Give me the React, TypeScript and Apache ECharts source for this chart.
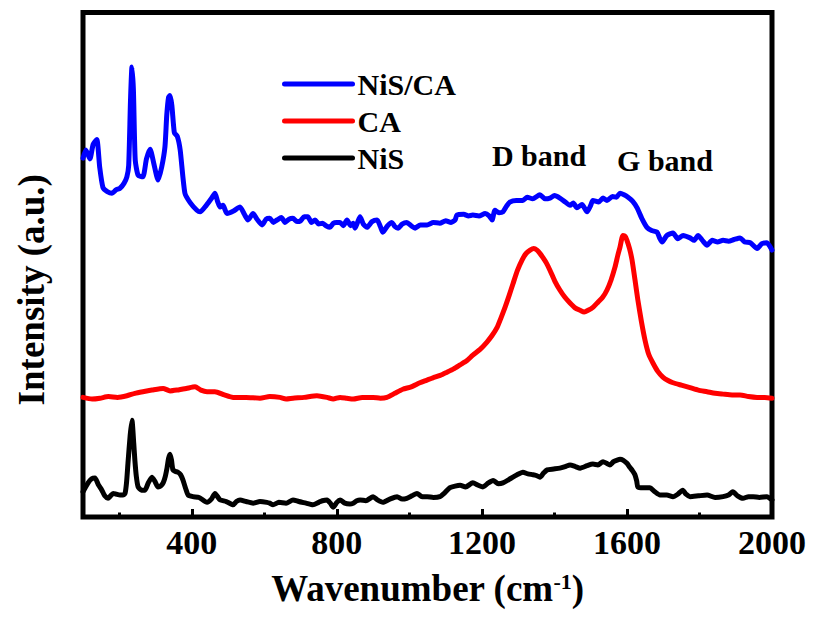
import React, { useEffect, useRef } from "react";
import * as echarts from "echarts";

const SERIF = '"Liberation Serif", "Times New Roman", serif';

const seriesNames = ["NiS/CA", "CA", "NiS"];
const seriesColors = ["#0000ff", "#ff0000", "#000000"];

// Wavenumber axis (cm-1)
const xMin = 100;
const xMax = 2000;
const xMajorTicks = [400, 800, 1200, 1600, 2000];
const xMinorTicks = [200, 600, 1000, 1400, 1800];
const xTopTicks = [200, 400, 600, 800, 1000, 1200, 1400, 1600, 1800];

// Intensity axis (a.u.), offset traces stacked vertically
const yMin = 0;
const yMax = 620;
const yTicks = [20, 120, 220, 320, 420, 520];

// [wavenumber, intensity]
const nisCaSpectrum = [
  [100, 441], [108, 451], [119, 440], [128, 458], [138, 464], [146, 430], [155, 405], [167, 400],
  [180, 398], [191, 402], [202, 404], [213, 410], [221, 418], [226, 432], [231, 512], [235, 553],
  [239, 525], [244, 439], [252, 420], [265, 418], [275, 440], [285, 452], [295, 435], [307, 414],
  [317, 430], [326, 455], [331, 494], [336, 516], [340, 518], [345, 506], [352, 472], [360, 468],
  [368, 451], [381, 398], [396, 386], [414, 377], [423, 375], [440, 383], [455, 392], [464, 398],
  [471, 388], [478, 381], [486, 383], [497, 373], [515, 376], [533, 381], [545, 372], [555, 365],
  [569, 373], [580, 366], [594, 359], [605, 366], [615, 367], [625, 362], [635, 365], [647, 368],
  [657, 362], [668, 366], [679, 367], [690, 363], [700, 364], [710, 369], [720, 369], [730, 362],
  [740, 365], [750, 360], [760, 361], [770, 358], [781, 356], [790, 361], [800, 362], [809, 362],
  [818, 358], [828, 365], [838, 358], [845, 361], [850, 355], [857, 362], [864, 369], [873, 360],
  [883, 356], [897, 363], [911, 365], [920, 357], [927, 350], [940, 358], [952, 362], [960, 357],
  [969, 355], [980, 360], [993, 362], [1005, 358], [1016, 355], [1030, 359], [1049, 359], [1066, 362],
  [1084, 361], [1100, 364], [1115, 362], [1126, 365], [1131, 371], [1150, 372], [1163, 370], [1175, 371],
  [1192, 370], [1209, 373], [1220, 370], [1228, 365], [1236, 377], [1247, 374], [1258, 375], [1268, 382],
  [1277, 387], [1295, 389], [1313, 389], [1325, 393], [1340, 391], [1360, 396], [1374, 391], [1388, 392],
  [1400, 395], [1415, 392], [1430, 387], [1443, 383], [1452, 386], [1462, 380], [1476, 384], [1490, 375],
  [1500, 383], [1506, 389], [1522, 387], [1534, 392], [1545, 389], [1560, 394], [1571, 393], [1581, 398],
  [1592, 396], [1603, 393], [1616, 388], [1628, 380], [1642, 366], [1655, 356], [1668, 352], [1683, 350],
  [1690, 343], [1697, 338], [1710, 346], [1727, 349], [1740, 342], [1755, 346], [1774, 343], [1785, 340],
  [1796, 346], [1808, 340], [1821, 334], [1835, 340], [1850, 338], [1865, 340], [1880, 339], [1895, 341],
  [1912, 343], [1925, 338], [1940, 337], [1959, 330], [1972, 336], [1986, 337], [2000, 328],
];

const caSpectrum = [
  [100, 147], [125, 145], [147, 146], [170, 148], [195, 147], [221, 149], [243, 152], [265, 154],
  [290, 156], [321, 158], [340, 155], [359, 156], [385, 158], [409, 160], [425, 156], [442, 154],
  [464, 154], [490, 150], [514, 147], [550, 147], [588, 146], [615, 148], [643, 147], [660, 145],
  [679, 146], [710, 147], [745, 149], [773, 147], [790, 145], [809, 147], [827, 146], [845, 145],
  [870, 147], [900, 147], [920, 146], [938, 147], [960, 152], [982, 157], [1005, 160], [1029, 165],
  [1047, 168], [1065, 171], [1085, 174], [1104, 178], [1122, 182], [1140, 187], [1158, 192], [1175, 199],
  [1195, 206], [1214, 215], [1228, 223], [1242, 233], [1253, 245], [1264, 258], [1275, 272], [1286, 287],
  [1298, 303], [1311, 316], [1322, 324], [1333, 328], [1343, 330], [1352, 328], [1360, 324], [1368, 319],
  [1378, 312], [1388, 303], [1401, 290], [1415, 279], [1429, 270], [1443, 263], [1457, 257], [1471, 254],
  [1482, 252], [1493, 254], [1507, 258], [1520, 264], [1533, 270], [1545, 279], [1556, 291], [1567, 307],
  [1575, 322], [1581, 332], [1589, 346], [1595, 345], [1600, 340], [1607, 330], [1614, 316], [1622, 292],
  [1630, 267], [1640, 240], [1650, 217], [1660, 200], [1672, 189], [1685, 179], [1699, 172], [1712, 168],
  [1727, 165], [1750, 162], [1774, 159], [1797, 156], [1821, 154], [1843, 152], [1865, 151], [1890, 150],
  [1912, 150], [1935, 148], [1959, 147], [1980, 147], [2000, 146],
];

const nisSpectrum = [
  [100, 31], [114, 42], [124, 47], [133, 48], [142, 40], [152, 33], [160, 26], [169, 23],
  [176, 26], [183, 29], [192, 28], [202, 27], [210, 27], [216, 29], [220, 42], [224, 66],
  [230, 100], [235, 119], [240, 90], [243, 70], [247, 50], [252, 37], [261, 33], [271, 33],
  [280, 42], [290, 49], [298, 44], [307, 37], [314, 38], [321, 42], [327, 50], [332, 61],
  [336, 72], [340, 77], [344, 70], [348, 58], [355, 56], [362, 55], [369, 52], [376, 45],
  [383, 35], [390, 27], [403, 25], [420, 24], [442, 18], [454, 22], [464, 29], [471, 25],
  [478, 21], [495, 19], [514, 15], [523, 19], [533, 21], [550, 19], [569, 17], [588, 19],
  [607, 18], [615, 17], [624, 15], [640, 18], [660, 17], [679, 21], [695, 19], [715, 17],
  [734, 15], [750, 18], [760, 20], [773, 21], [782, 17], [790, 12], [800, 18], [809, 21],
  [822, 17], [836, 16], [845, 17], [855, 20], [864, 21], [880, 20], [900, 25], [912, 21],
  [927, 18], [946, 22], [966, 25], [980, 22], [993, 23], [1007, 26], [1021, 29], [1035, 25],
  [1049, 25], [1066, 24], [1084, 25], [1098, 30], [1112, 36], [1126, 38], [1140, 39], [1155, 37],
  [1175, 42], [1190, 39], [1203, 37], [1218, 42], [1231, 45], [1245, 41], [1258, 42], [1278, 47],
  [1297, 52], [1313, 55], [1327, 53], [1341, 52], [1350, 51], [1360, 49], [1370, 54], [1380, 58],
  [1398, 59], [1415, 60], [1430, 62], [1443, 64], [1458, 62], [1471, 60], [1490, 63], [1506, 65],
  [1520, 64], [1534, 68], [1544, 66], [1553, 64], [1563, 68], [1573, 70], [1581, 71], [1589, 70],
  [1600, 66], [1608, 61], [1615, 57], [1622, 52], [1627, 44], [1630, 37], [1645, 36], [1663, 36],
  [1677, 31], [1691, 27], [1710, 27], [1727, 25], [1740, 28], [1754, 33], [1763, 28], [1774, 25],
  [1797, 26], [1821, 27], [1843, 24], [1865, 25], [1880, 27], [1892, 31], [1905, 26], [1920, 23],
  [1935, 25], [1948, 25], [1965, 24], [1986, 25], [2000, 21],
];

const spectra = [nisCaSpectrum, caSpectrum, nisSpectrum];

const bandLabels = [
  { text: "D band", x: 539, y: 155 },
  { text: "G band", x: 665, y: 160 },
];

const boldSerif = {
  fontFamily: SERIF,
  fontWeight: "bold" as const,
  color: "#000",
};

export default function App() {
  const ref = useRef<HTMLDivElement>(null);

  useEffect(() => {
    if (!ref.current) return;
    const chart = echarts.init(ref.current, null, { renderer: "svg" });

    const hiddenAxisParts = {
      axisLine: { show: false },
      splitLine: { show: false },
    };

    chart.setOption({
      animation: false,
      backgroundColor: "#fff",
      grid: {
        left: 83,
        right: 44,
        top: 12.5,
        bottom: 104,
        show: true,
        borderWidth: 5,
        borderColor: "#000",
        backgroundColor: "transparent",
      },
      legend: {
        orient: "vertical",
        left: 277,
        top: 64,
        itemWidth: 68,
        itemHeight: 5,
        itemGap: 7,
        data: seriesNames,
        itemStyle: { opacity: 0 },
        lineStyle: { width: 5, cap: "round" },
        textStyle: { ...boldSerif, fontSize: 30, lineHeight: 30 },
      },
      xAxis: [
        {
          type: "value",
          position: "bottom",
          min: xMin,
          max: xMax,
          ...hiddenAxisParts,
          name: "Wavenumber (cm{sup|-1})",
          nameLocation: "middle",
          nameGap: 53,
          nameTextStyle: {
            ...boldSerif,
            fontSize: 37,
            rich: {
              sup: { ...boldSerif, fontSize: 22, verticalAlign: "top" },
            },
          },
          axisTick: {
            show: true,
            inside: true,
            length: 8,
            customValues: xMajorTicks,
            lineStyle: { color: "#000", width: 3 },
          },
          axisLabel: {
            ...boldSerif,
            fontSize: 34,
            margin: 8,
            customValues: xMajorTicks,
            formatter: (v: number) => String(v),
          },
        },
        {
          type: "value",
          position: "bottom",
          min: xMin,
          max: xMax,
          ...hiddenAxisParts,
          axisTick: {
            show: true,
            inside: true,
            length: 4.5,
            customValues: xMinorTicks,
            lineStyle: { color: "#000", width: 3 },
          },
          axisLabel: { show: false },
        },
        {
          type: "value",
          position: "top",
          min: xMin,
          max: xMax,
          ...hiddenAxisParts,
          axisTick: {
            show: true,
            inside: false,
            length: 2,
            customValues: xTopTicks,
            lineStyle: { color: "#000", width: 2 },
          },
          axisLabel: { show: false },
        },
      ],
      yAxis: [
        {
          type: "value",
          position: "left",
          min: yMin,
          max: yMax,
          ...hiddenAxisParts,
          name: "Intensity (a.u.)",
          nameLocation: "middle",
          nameGap: 33,
          nameTextStyle: { ...boldSerif, fontSize: 37, padding: [0, 50, 0, 0] },
          axisTick: {
            show: true,
            inside: true,
            length: 2,
            customValues: yTicks,
            lineStyle: { color: "#000", width: 2 },
          },
          axisLabel: { show: false },
        },
        {
          type: "value",
          position: "right",
          min: yMin,
          max: yMax,
          ...hiddenAxisParts,
          axisTick: {
            show: true,
            inside: false,
            length: 2,
            customValues: yTicks,
            lineStyle: { color: "#000", width: 2 },
          },
          axisLabel: { show: false },
        },
      ],
      graphic: bandLabels.map((b) => ({
        type: "text",
        x: b.x,
        y: b.y,
        style: {
          text: b.text,
          font: `bold 30px ${SERIF}`,
          fill: "#000",
          textAlign: "center",
          textVerticalAlign: "middle",
        },
      })),
      series: seriesNames.map((name, i) => ({
        name,
        type: "line",
        xAxisIndex: 0,
        yAxisIndex: 0,
        data: spectra[i],
        symbol: "none",
        showSymbol: false,
        smooth: 0.2,
        color: seriesColors[i],
        lineStyle: {
          color: seriesColors[i],
          width: 5,
          join: "round",
          cap: "round",
        },
      })),
    });

    return () => chart.dispose();
  }, []);

  return (
    <div
      ref={ref}
      style={{ position: "fixed", left: 0, top: 0, width: 816, height: 621 }}
    />
  );
}
